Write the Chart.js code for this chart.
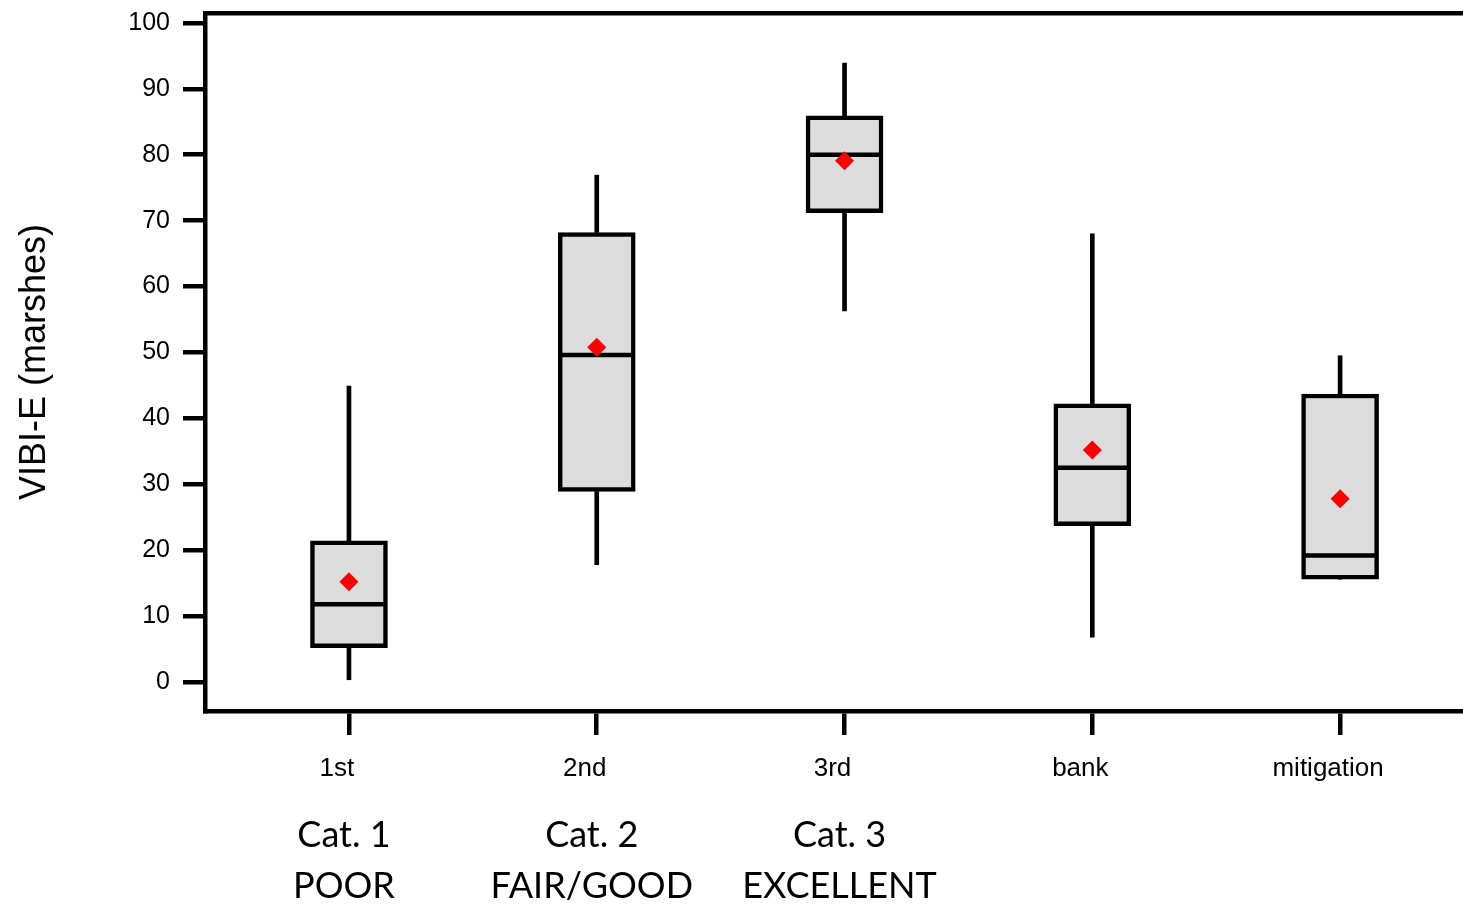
<!DOCTYPE html>
<html>
<head>
<meta charset="utf-8">
<script src="https://cdn.jsdelivr.net/npm/chart.js@4.4.1/dist/chart.umd.min.js"></script>
<style>
  html, body { margin: 0; padding: 0; background: #fff; overflow: hidden; }
  #wrap { width: 1463px; height: 909px; position: relative; }
</style>
</head>
<body>
<div id="wrap"><canvas id="chart"></canvas></div>
<script>
// data
const categories = ['1st', '2nd', '3rd', 'bank', 'mitigation'];
const catNotes = [['Cat. 1', 'POOR'], ['Cat. 2', 'FAIR/GOOD'], ['Cat. 3', 'EXCELLENT']];
const whiskerLow = [0, 17.8, 56.3, 6.8, 15.6];
const q1 = [5.2, 28.9, 71.2, 23.7, 15.6];
const median = [11.8, 49.6, 80.0, 32.5, 19.2];
const q3 = [21.4, 68.2, 85.9, 42.2, 43.7];
const whiskerHigh = [44.9, 76.9, 93.9, 68.0, 49.5];
const means = [15.2, 50.8, 79.1, 35.2, 27.8];
const yTicks = [0, 10, 20, 30, 40, 50, 60, 70, 80, 90, 100];

const arial = 'Arial, "Liberation Sans", sans-serif';
const X_MIN = -0.581, X_MAX = 4.496;
const LW = 4.5;

const idx = categories.map((c, i) => i);

// keep the plot box where the original has it
function fixBox(h, w) {
  return s => {
    if (h !== undefined) s.height = h;
    if (w !== undefined) s.width = w;
    s.paddingLeft = 0; s.paddingRight = 0; s.paddingTop = 0; s.paddingBottom = 0;
  };
}

const ctx = document.getElementById('chart').getContext('2d');
new Chart(ctx, {
  type: 'bar',
  data: {
    datasets: [
      {
        type: 'scatter',
        label: 'mean',
        data: idx.map(i => ({ x: i, y: means[i] })),
        pointStyle: 'rectRot',
        pointRadius: 9.5,
        pointBorderWidth: 0,
        backgroundColor: '#ff0000',
        borderColor: '#ff0000',
        xAxisID: 'x', yAxisID: 'y',
        order: 0
      },
      {
        type: 'scatter',
        label: 'median',
        data: idx.map(i => ({ x: i, y: median[i] })),
        pointStyle: 'line',
        pointRadius: 38,
        pointBorderWidth: LW,
        borderColor: '#000',
        backgroundColor: '#000',
        xAxisID: 'x', yAxisID: 'y',
        order: 1
      },
      {
        label: 'box',
        data: idx.map(i => ({ x: i, y: [q1[i], q3[i]] })),
        backgroundColor: '#dcdcdc',
        borderColor: '#000',
        borderWidth: LW,
        borderSkipped: false,
        barThickness: 77,
        grouped: false,
        xAxisID: 'x', yAxisID: 'y',
        order: 2
      },
      {
        label: 'whisker low',
        data: idx.map(i => ({ x: i, y: [whiskerLow[i], q1[i]] })),
        backgroundColor: '#000',
        borderWidth: 0,
        barThickness: 4,
        grouped: false,
        xAxisID: 'x', yAxisID: 'y',
        order: 3
      },
      {
        label: 'whisker high',
        data: idx.map(i => ({ x: i, y: [q3[i], whiskerHigh[i]] })),
        backgroundColor: '#000',
        borderWidth: 0,
        barThickness: 4,
        grouped: false,
        xAxisID: 'x', yAxisID: 'y',
        order: 3
      }
    ]
  },
  options: {
    responsive: true,
    maintainAspectRatio: false,
    animation: false,
    layout: { autoPadding: false, padding: { top: 13, right: 0, bottom: 0, left: 0 } },
    plugins: { legend: { display: false }, tooltip: { enabled: false } },
    scales: {
      x: {
        type: 'linear',
        position: 'bottom',
        min: X_MIN, max: X_MAX,
        offset: false,
        weight: 0,
        afterBuildTicks: s => { s.ticks = idx.map(v => ({ value: v })); },
        afterFit: fixBox(80),
        grid: { display: true, drawOnChartArea: false, drawTicks: true, tickLength: 24, lineWidth: LW, color: '#000', offset: false },
        border: { display: true, width: LW, color: '#000' },
        ticks: {
          padding: 18,
          labelOffset: -12,
          maxRotation: 0,
          autoSkip: false,
          color: '#000',
          font: { family: arial, size: 26 },
          callback: v => categories[v]
        }
      },
      xCat: {
        type: 'linear',
        position: 'bottom',
        min: X_MIN, max: X_MAX,
        offset: false,
        weight: 1,
        afterBuildTicks: s => { s.ticks = catNotes.map((n, i) => ({ value: i })); },
        afterFit: fixBox(118),
        grid: { display: false, drawTicks: false },
        border: { display: false },
        ticks: {
          padding: 19,
          labelOffset: -5,
          maxRotation: 0,
          autoSkip: false,
          color: '#000',
          font: { family: 'Lato, "Open Sans", sans-serif', size: 36, lineHeight: 1.42 },
          callback: v => catNotes[v]
        }
      },
      xTop: {
        type: 'linear',
        position: 'top',
        min: X_MIN, max: X_MAX,
        offset: false,
        afterFit: fixBox(0),
        grid: { display: false, drawTicks: false },
        border: { display: true, width: LW, color: '#000' },
        ticks: { display: false }
      },
      y: {
        type: 'linear',
        position: 'left',
        min: -4.4, max: 101.5,
        afterBuildTicks: s => { s.ticks = yTicks.map(v => ({ value: v })); },
        afterFit: fixBox(undefined, 205),
        grid: { display: true, drawOnChartArea: false, drawTicks: true, tickLength: 22, lineWidth: LW, color: '#000' },
        border: { display: true, width: LW, color: '#000' },
        ticks: {
          padding: 13,
          color: '#000',
          font: { family: arial, size: 25, lineHeight: 1 }
        },
        title: {
          display: true,
          text: 'VIBI-E (marshes)',
          color: '#000',
          font: { family: arial, size: 36 },
          padding: { top: 13, bottom: 0 }
        }
      }
    }
  }
});
</script>
</body>
</html>
